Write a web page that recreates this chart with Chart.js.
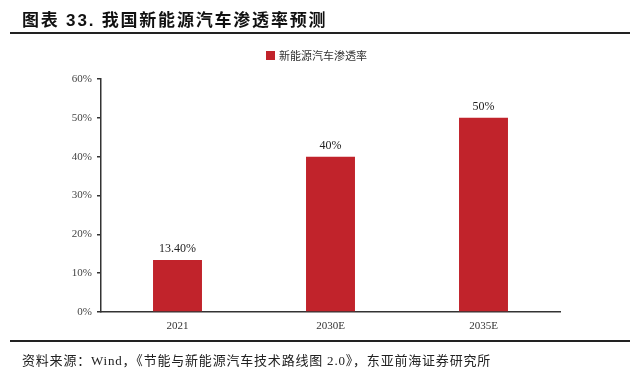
<!DOCTYPE html>
<html><head><meta charset="utf-8">
<script src="https://cdn.jsdelivr.net/npm/chart.js@4/dist/chart.umd.min.js"></script>
<style>
html,body{margin:0;padding:0;background:#fff;width:640px;height:377px;overflow:hidden;}
#title{position:absolute;left:22px;top:6px;font-family:"Liberation Sans","Noto Sans CJK SC",sans-serif;font-weight:bold;font-size:17px;color:#111;letter-spacing:1.8px;}
#tline{position:absolute;left:10px;top:32px;width:620px;height:2px;background:#222;}
#bline{position:absolute;left:10px;top:340px;width:620px;height:2px;background:#222;}
#foot{position:absolute;left:22px;top:350px;font-family:"Liberation Serif","Noto Sans CJK SC",serif;font-size:13px;color:#222;letter-spacing:0.8px;}
#legend{position:absolute;left:266px;top:47px;font-family:"Noto Sans CJK SC",sans-serif;font-size:11px;color:#333;display:flex;align-items:center;}
#legend span.box{display:inline-block;width:9px;height:9px;background:#C1232B;margin-right:4px;}
#wrap{position:absolute;left:0;top:0;width:640px;height:377px;}
</style></head><body>
<div id="wrap"><canvas id="c" width="640" height="377"></canvas></div>
<div id="title">图表 33. 我国新能源汽车渗透率预测</div>
<div id="tline"></div>
<div id="legend"><span class="box"></span>新能源汽车渗透率</div>
<div id="bline"></div>
<div id="foot">资料来源：Wind，《节能与新能源汽车技术路线图 2.0》，东亚前海证券研究所</div>
<script>
const categories = ['2021', '2030E', '2035E'];
const penetration = [13.4, 40, 50];
const valueLabels = ['13.40%', '40%', '50%'];
const seriesName = '新能源汽车渗透率';
const yTicks = [0, 10, 20, 30, 40, 50, 60];

const labelPlugin = {
  id: 'vlabels',
  afterDatasetsDraw(chart) {
    const ctx = chart.ctx;
    const meta = chart.getDatasetMeta(0);
    ctx.save();
    ctx.font = '12px "Liberation Serif", serif';
    ctx.fillStyle = '#222';
    ctx.textAlign = 'center';
    ctx.textBaseline = 'alphabetic';
    meta.data.forEach((bar, i) => {
      ctx.fillText(valueLabels[i], bar.x, bar.y - 8);
    });
    ctx.restore();
  }
};

new Chart(document.getElementById('c'), {
  type: 'bar',
  data: {
    labels: categories,
    datasets: [{
      label: seriesName,
      data: penetration,
      backgroundColor: '#C1232B',
      barPercentage: 0.32,
      categoryPercentage: 1.0
    }]
  },
  options: {
    responsive: false,
    animation: false,
    layout: { padding: { left: 0, right: 80, top: 79, bottom: 0 } },
    plugins: { legend: { display: false }, tooltip: { enabled: false } },
    scales: {
      x: {
        grid: { display: false, drawTicks: false },
        border: { display: true, color: '#333', width: 1.5 },
        ticks: { font: { family: '"Liberation Serif", serif', size: 11 }, color: '#333', padding: 8 },
        afterFit(s) { s.height = 65; }
      },
      y: {
        min: 0, max: 60,
        afterBuildTicks(s) { s.ticks = yTicks.map(v => ({ value: v })); },
        grid: { drawOnChartArea: false, drawTicks: true, tickLength: 4, color: '#333', lineWidth: 1.5 },
        border: { display: true, color: '#333', width: 1.5 },
        ticks: { font: { family: '"Liberation Serif", serif', size: 11 }, color: '#444', padding: 5, callback: v => v + '%' },
        afterFit(s) { s.width = 101; }
      }
    }
  },
  plugins: [labelPlugin]
});
</script>
</body></html>
